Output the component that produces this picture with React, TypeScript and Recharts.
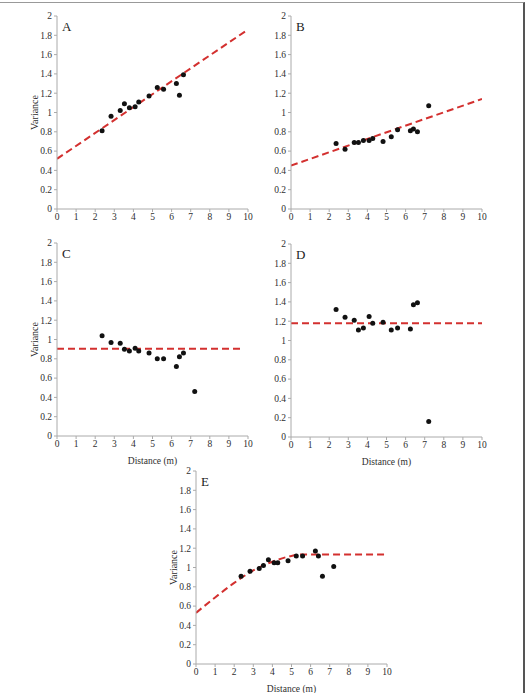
import { ComposedChart, XAxis, YAxis, Scatter, Line } from 'recharts';

// lag distances (m) shared by the five semivariograms
const lagDistances = [2.36, 2.83, 3.31, 3.53, 3.79, 4.09, 4.28, 4.82, 5.25, 5.58, 6.25, 6.41, 6.62, 7.21];

const varianceA = [0.81, 0.96, 1.02, 1.09, 1.05, 1.06, 1.11, 1.17, 1.26, 1.24, 1.3, 1.18, 1.39];
const varianceB = [0.68, 0.62, 0.69, 0.69, 0.71, 0.71, 0.73, 0.7, 0.75, 0.82, 0.81, 0.83, 0.8, 1.07];
const varianceC = [1.04, 0.97, 0.96, 0.9, 0.88, 0.91, 0.88, 0.86, 0.8, 0.8, 0.72, 0.82, 0.86, 0.46];
const varianceD = [1.32, 1.24, 1.21, 1.11, 1.13, 1.25, 1.18, 1.19, 1.11, 1.13, 1.12, 1.37, 1.39, 0.16];
const varianceE = [0.91, 0.96, 0.99, 1.02, 1.08, 1.05, 1.05, 1.07, 1.12, 1.12, 1.17, 1.12, 0.91, 1.01];

// fitted models (dashed red)
const fitLagsLinear = [0, 10];
const fitA = [0.52, 1.86];
const fitB = [0.45, 1.14];
const fitLagsC = [0, 9.75];
const fitC = [0.905, 0.905];
const fitD = [1.18, 1.18];
const fitLagsE = [0, 1, 2, 3, 4, 5, 5.6, 10];
const fitE = [0.53, 0.69, 0.84, 0.97, 1.06, 1.12, 1.135, 1.135];

const distanceTicks = [0, 1, 2, 3, 4, 5, 6, 7, 8, 9, 10];
const varianceTicks = [0, 0.2, 0.4, 0.6, 0.8, 1, 1.2, 1.4, 1.6, 1.8, 2];

const toPoints = (xs: number[], ys: number[]) => ys.map((y, i) => ({ x: xs[i], y }));

const FONT = "'Liberation Serif', 'DejaVu Serif', serif";
const AXIS_COLOR = '#aaaaaa';
const TEXT_COLOR = '#2e2e2e';
const FIT_COLOR = '#d3302f';

type PanelProps = {
  letter: string;
  left: number;
  top: number;
  points: { x: number; y: number }[];
  fit: { x: number; y: number }[];
  curved?: boolean;
  yLabel?: boolean;
  xLabel?: boolean;
};

function Panel({ letter, left, top, points, fit, curved, yLabel, xLabel }: PanelProps) {
  const renderYLabel = (props: any) => {
    const vb = props.viewBox || { x: 25, y: 16, width: 32, height: 193 };
    const cx = vb.x + 9;
    const cy = vb.y + vb.height / 2;
    return (
      <g>
        {yLabel && (
          <text
            x={cx}
            y={cy}
            transform={`rotate(-90 ${cx} ${cy})`}
            textAnchor="middle"
            dominantBaseline="central"
            fontSize={10}
            fill={TEXT_COLOR}
            fontFamily={FONT}
          >
            Variance
          </text>
        )}
        <text x={vb.x + vb.width + 5} y={vb.y + 14.5} fontSize={13} fill="#222" fontFamily={FONT}>
          {letter}
        </text>
      </g>
    );
  };

  return (
    <div style={{ position: 'absolute', left, top }}>
      <ComposedChart
        width={260}
        height={240}
        margin={{ top: 16, right: 12, left: 25, bottom: 4 }}
        style={{ fontFamily: FONT }}
      >
        <XAxis
          type="number"
          dataKey="x"
          domain={[0, 10]}
          ticks={distanceTicks}
          allowDataOverflow
          height={27}
          stroke={AXIS_COLOR}
          tickSize={3}
          tickMargin={1}
          tick={{ fontSize: 9.5, fill: TEXT_COLOR, fontFamily: FONT }}
          label={
            xLabel
              ? { value: 'Distance (m)', position: 'insideBottom', offset: -1, fontSize: 9.5, fill: TEXT_COLOR, fontFamily: FONT }
              : undefined
          }
        />
        <YAxis
          type="number"
          dataKey="y"
          domain={[0, 2]}
          ticks={varianceTicks}
          allowDataOverflow
          width={32}
          stroke={AXIS_COLOR}
          tickSize={3}
          tickMargin={2}
          tick={{ fontSize: 9.5, fill: TEXT_COLOR, fontFamily: FONT }}
          label={renderYLabel}
        />
        <Line
          data={fit}
          dataKey="y"
          type={curved ? 'monotone' : 'linear'}
          stroke={FIT_COLOR}
          strokeWidth={2}
          strokeDasharray="7 4"
          dot={false}
          activeDot={false}
          isAnimationActive={false}
        />
        <Scatter
          data={points}
          dataKey="y"
          fill="#111"
          isAnimationActive={false}
          shape={(p: any) => <circle cx={p.cx} cy={p.cy} r={2.5} fill="#111" />}
        />
      </ComposedChart>
    </div>
  );
}

export default function App() {
  return (
    <div
      style={{
        position: 'absolute',
        left: 0,
        top: 0,
        width: 525,
        height: 693,
        background: '#fff',
        overflow: 'hidden',
      }}
    >
      <div
        style={{
          position: 'absolute',
          left: 0,
          top: 2,
          width: 525,
          height: 691,
          boxSizing: 'border-box',
          borderTop: '1px solid #999',
          borderRight: '2px solid #555',
        }}
      />
      <Panel
        letter="A"
        left={0}
        top={0}
        points={toPoints(lagDistances, varianceA)}
        fit={toPoints(fitLagsLinear, fitA)}
        yLabel
      />
      <Panel
        letter="B"
        left={234}
        top={0}
        points={toPoints(lagDistances, varianceB)}
        fit={toPoints(fitLagsLinear, fitB)}
      />
      <Panel
        letter="C"
        left={0}
        top={227}
        points={toPoints(lagDistances, varianceC)}
        fit={toPoints(fitLagsC, fitC)}
        yLabel
        xLabel
      />
      <Panel
        letter="D"
        left={234}
        top={228}
        points={toPoints(lagDistances, varianceD)}
        fit={toPoints(fitLagsLinear, fitD)}
        xLabel
      />
      <Panel
        letter="E"
        left={139}
        top={455}
        points={toPoints(lagDistances, varianceE)}
        fit={toPoints(fitLagsE, fitE)}
        curved
        yLabel
        xLabel
      />
    </div>
  );
}
